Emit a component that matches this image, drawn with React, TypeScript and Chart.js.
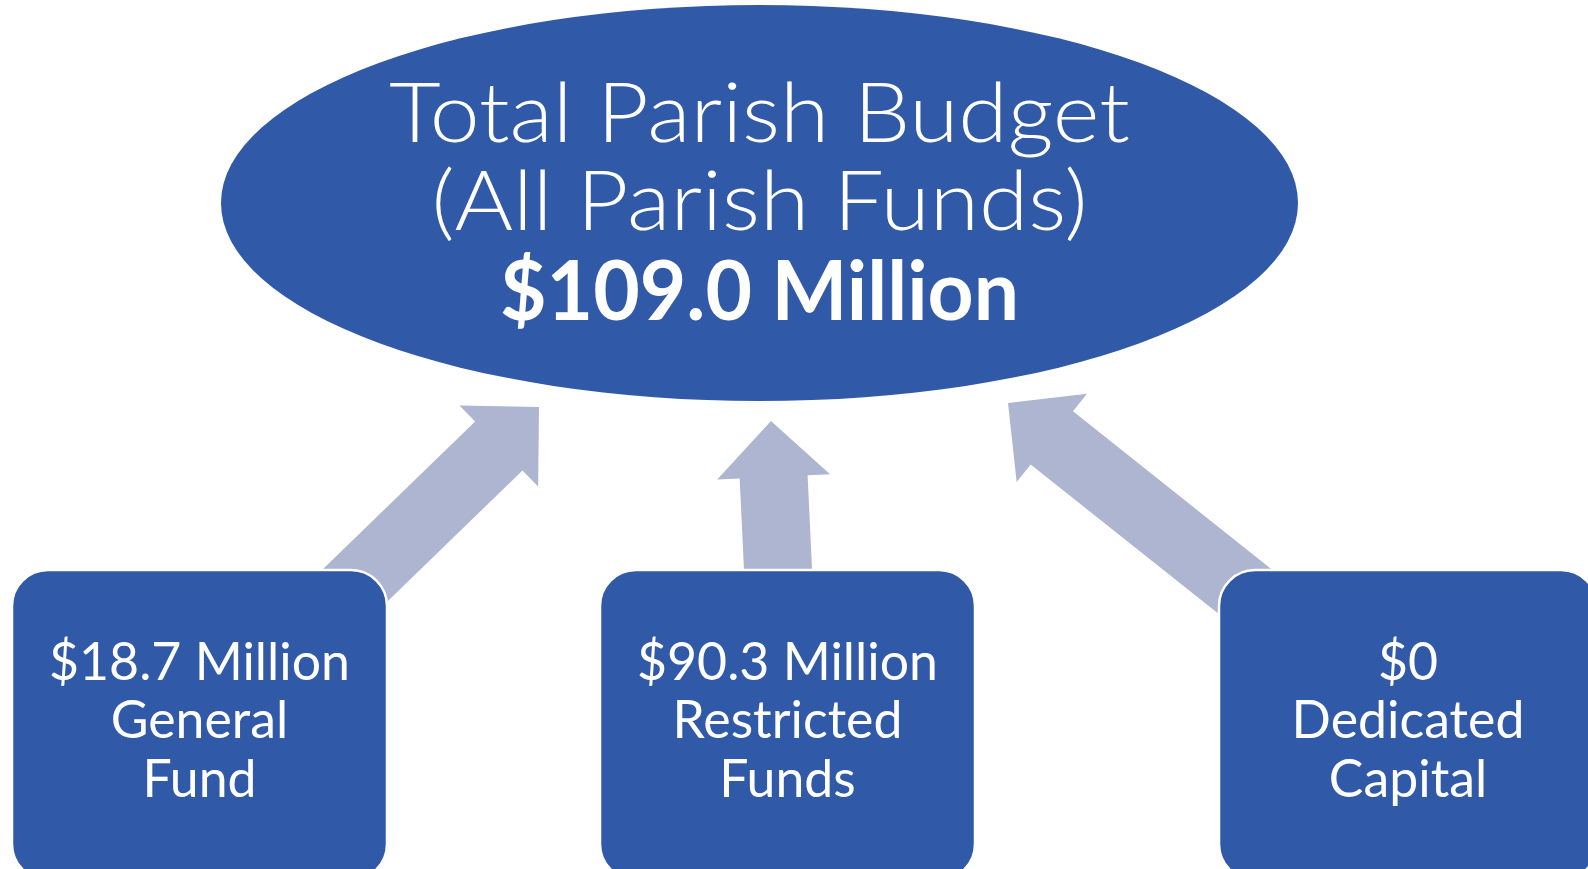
import React, { useEffect, useRef } from "react";
import { Chart, registerables } from "chart.js";

Chart.register(...registerables);

// ---- data ----
const totalLines = ["Total Parish Budget", "(All Parish Funds)"];
const totalAmount = 109.0;
const fundNames = [
  ["General", "Fund"],
  ["Restricted", "Funds"],
  ["Dedicated", "Capital"],
];
const fundAmounts = [18.7, 90.3, 0];

// ---- layout (in data units of a 1588 x 869 frame) ----
const W = 1588;
const H = 869;
const BLUE = "#3059A7";
const ARROW_COLOR = "#ADB5D1";
const ELLIPSE = { cx: 759.5, cy: 203, rx: 538.5, ry: 198 };
const BOXES = [
  { x0: 12, x1: 387 },
  { x0: 600, x1: 975 },
  { x0: 1219, x1: 1597 },
];
const BOX_TOP = 570;
const BOX_BOTTOM = 880;
const BOX_RADIUS = 36;
const ARROWS = [
  { from: [340, 600], to: [539, 407] },
  { from: [780, 612], to: [771, 421] },
  { from: [1262, 605], to: [1008, 403] },
];
const SHAFT = 68;
const HEAD_W = 113;
const HEAD_L = 56;

const FONT = "'Century Gothic', Lato, 'Noto Sans', sans-serif";

function fmtFund(v: number) {
  return v === 0 ? "$0" : `$${v.toFixed(1)} Million`;
}

const diagramPlugin = {
  id: "diagram",
  afterDraw(chart: any) {
    const ctx = chart.ctx as CanvasRenderingContext2D;
    const xs = chart.scales.x;
    const ys = chart.scales.y;
    const px = (v: number) => xs.getPixelForValue(v);
    const py = (v: number) => ys.getPixelForValue(v);
    const sx = Math.abs(px(1) - px(0));
    const sy = Math.abs(py(1) - py(0));
    ctx.save();

    // arrows
    ARROWS.forEach((a) => {
      const fx = px(a.from[0]), fy = py(a.from[1]);
      const tx = px(a.to[0]), ty = py(a.to[1]);
      const dx = tx - fx, dy = ty - fy;
      const len = Math.hypot(dx, dy);
      const ux = dx / len, uy = dy / len;
      const nx = -uy, ny = ux;
      const hs = (SHAFT * sx) / 2, hh = (HEAD_W * sx) / 2;
      const bx = tx - ux * HEAD_L * sx, by = ty - uy * HEAD_L * sy;
      ctx.beginPath();
      ctx.moveTo(fx + nx * hs, fy + ny * hs);
      ctx.lineTo(bx + nx * hs, by + ny * hs);
      ctx.lineTo(bx + nx * hh, by + ny * hh);
      ctx.lineTo(tx, ty);
      ctx.lineTo(bx - nx * hh, by - ny * hh);
      ctx.lineTo(bx - nx * hs, by - ny * hs);
      ctx.lineTo(fx - nx * hs, fy - ny * hs);
      ctx.closePath();
      ctx.fillStyle = ARROW_COLOR;
      ctx.fill();
    });

    // ellipse
    ctx.beginPath();
    ctx.ellipse(px(ELLIPSE.cx), py(ELLIPSE.cy), ELLIPSE.rx * sx, ELLIPSE.ry * sy, 0, 0, Math.PI * 2);
    ctx.fillStyle = BLUE;
    ctx.fill();

    // boxes
    BOXES.forEach((b) => {
      const x0 = px(b.x0), x1 = px(b.x1), y0 = py(BOX_TOP), y1 = py(BOX_BOTTOM);
      ctx.beginPath();
      ctx.roundRect(x0, y0, x1 - x0, y1 - y0, BOX_RADIUS * sx);
      ctx.fillStyle = BLUE;
      ctx.fill();
      ctx.lineWidth = 2.5;
      ctx.strokeStyle = "#FFFFFF";
      ctx.stroke();
    });

    // text helper: draws centered text, horizontally stretched by k
    const drawText = (t: string, cx: number, base: number, font: string, k: number) => {
      ctx.save();
      ctx.font = font;
      ctx.textAlign = "center";
      ctx.textBaseline = "alphabetic";
      ctx.fillStyle = "#FFFFFF";
      ctx.translate(cx, base);
      ctx.scale(k, 1);
      ctx.fillText(t, 0, 0);
      ctx.restore();
    };

    // title
    const regTitle = `300 ${83 * sy}px ${FONT}`;
    ctx.font = regTitle;
    const kTitle = (741 * sx) / ctx.measureText(totalLines[0]).width;
    drawText(totalLines[0], px(ELLIPSE.cx), py(142), regTitle, kTitle);
    drawText(totalLines[1], px(ELLIPSE.cx), py(230), regTitle, kTitle);
    const boldTitle = `bold ${83 * sy}px ${FONT}`;
    const amt = `$${totalAmount.toFixed(1)} Million`;
    ctx.font = boldTitle;
    const kBold = (519 * sx) / ctx.measureText(amt).width;
    drawText(amt, px(ELLIPSE.cx), py(320), boldTitle, kBold);

    // box text
    const boxFont = `400 ${52 * sy}px ${FONT}`;
    ctx.font = boxFont;
    const kBox = (301 * sx) / ctx.measureText(fmtFund(fundAmounts[0])).width;
    const bases = [680, 738, 797];
    BOXES.forEach((b, i) => {
      const cx = px((b.x0 + b.x1) / 2);
      const lines = [fmtFund(fundAmounts[i]), ...fundNames[i]];
      lines.forEach((l, j) => drawText(l, cx, py(bases[j]), boxFont, kBox));
    });

    ctx.restore();
  },
};

export default function App() {
  const ref = useRef<HTMLCanvasElement | null>(null);
  useEffect(() => {
    document.body.style.margin = "0";
    document.body.style.overflow = "hidden";
    const canvas = ref.current!;
    const chart = new Chart(canvas, {
      type: "scatter",
      data: {
        datasets: [
          {
            data: fundAmounts.map((v, i) => ({ x: (BOXES[i].x0 + BOXES[i].x1) / 2, y: BOX_TOP })),
            pointRadius: 0,
            showLine: false,
          },
        ],
      },
      options: {
        animation: false,
        responsive: false,
        maintainAspectRatio: false,
        layout: { padding: 0 },
        plugins: { legend: { display: false }, tooltip: { enabled: false } },
        scales: {
          x: { type: "linear", min: 0, max: W, display: false },
          y: { type: "linear", min: 0, max: H, reverse: true, display: false },
        },
      },
      plugins: [diagramPlugin],
    });
    return () => chart.destroy();
  }, []);
  return (
    <div style={{ width: W, height: H, background: "#FFFFFF" }}>
      <canvas ref={ref} width={W} height={H} style={{ display: "block", width: W, height: H }} />
    </div>
  );
}
